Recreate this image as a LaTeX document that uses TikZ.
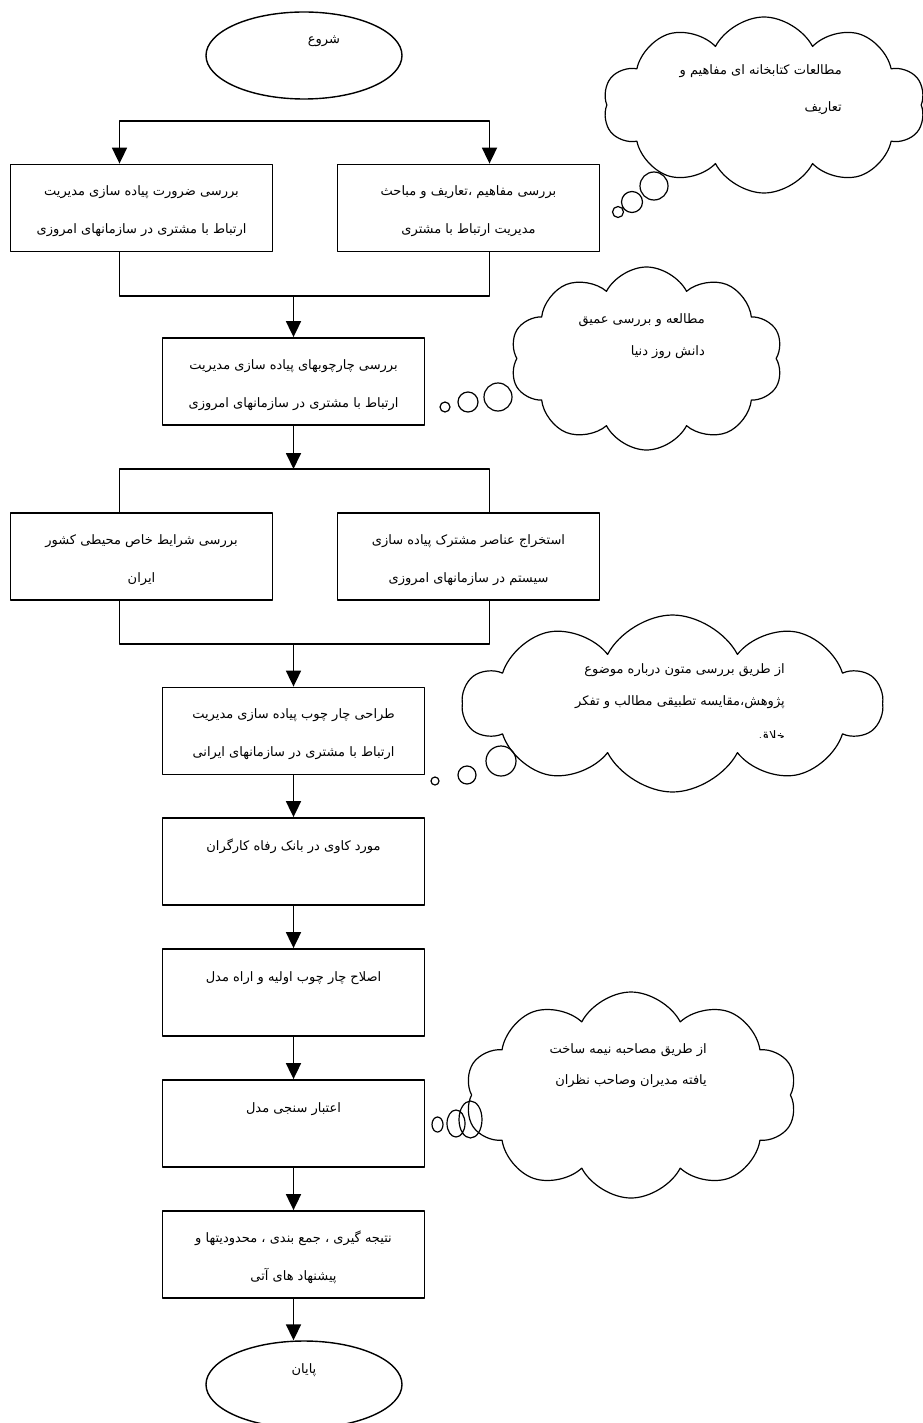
\documentclass[tikz,border=0pt]{standalone}
\usepackage{fontspec}
\newfontfamily\arabicfont[Script=Arabic]{DejaVu Sans}
\TeXXeTstate=1
\usetikzlibrary{shapes.geometric,shapes.symbols,arrows.meta,positioning}
\newcommand{\fa}[1]{{\arabicfont\beginR\rule[-2pt]{0pt}{19pt}#1\endR}}
\tikzset{
  box/.style={draw, line width=1.8pt, minimum width=262pt, minimum height=87pt,
    inner sep=0pt, align=center, font=\fontsize{13}{38}\selectfont},
  term/.style={draw, ellipse, line width=1.4pt, minimum width=196pt, minimum height=87pt,
    inner sep=0pt, align=center, font=\fontsize{13}{38}\selectfont},
  thought/.style={draw, cloud, cloud puffs=10, cloud puff arc=125, cloud ignores aspect,
    line width=1.2pt, inner sep=0pt},
  note/.style={anchor=north east, align=right, inner sep=0pt, font=\fontsize{13}{32}\selectfont},
  link/.style={line width=1.8pt},
  arr/.style={line width=1.8pt, -{Triangle[length=16pt,width=15pt]}}
}
\begin{document}
\begin{tikzpicture}[x=1pt, y=-1pt, line join=round]
  \useasboundingbox[fill=white] (0,0) rectangle (922,1423);
  \def\cx{293.5} \def\lx{141.5} \def\rx{468.5}
  % flow
  \node[term, text width=72pt, align=right] (start) at (304,55.5) {\fa{شروع}\\\fa{}};
  \node[box] (b1L) at (\lx,208) {\fa{بررسی ضرورت پیاده سازی مدیریت}\\\fa{ارتباط با مشتری در سازمانهای امروزی}};
  \node[box] (b1R) at (\rx,208) {\fa{بررسی مفاهیم ،تعاریف و مباحث}\\\fa{مدیریت ارتباط با مشتری}};
  \node[box] (b2) at (\cx,381.5) {\fa{بررسی چارچوبهای پیاده سازی مدیریت}\\\fa{ارتباط با مشتری در سازمانهای امروزی}};
  \node[box] (b3L) at (\lx,556.5) {\fa{بررسی شرایط خاص محیطی کشور}\\\fa{ایران}};
  \node[box] (b3R) at (\rx,556.5) {\fa{استخراج عناصر مشترک پیاده سازی}\\\fa{سیستم در سازمانهای امروزی}};
  \node[box] (b4) at (\cx,731) {\fa{طراحی چار چوب پیاده سازی مدیریت}\\\fa{ارتباط با مشتری در سازمانهای ایرانی}};
  \node[box] (b5) at (\cx,861.5) {\fa{مورد کاوی در بانک رفاه کارگران}\\\fa{}};
  \node[box] (b6) at (\cx,992.5) {\fa{اصلاح چار چوب اولیه و اراه مدل}\\\fa{}};
  \node[box] (b7) at (\cx,1123.5) {\fa{اعتبار سنجی مدل}\\\fa{}};
  \node[box] (b8) at (\cx,1254.5) {\fa{نتیجه گیری ، جمع بندی ، محدودیتها و}\\\fa{پیشنهاد های  آتی}};
  \node[term] (stop) at (304,1384.5) {\fa{پایان}\\\fa{}};

  \coordinate (split1) at (\cx,121);
  \coordinate (join1) at (\cx,296);
  \coordinate (split2) at (\cx,469);
  \coordinate (join2) at (\cx,644);
  \draw[arr] (split1) -| ([xshift=-22pt]b1L.north);
  \draw[arr] (split1) -| ([xshift=21pt]b1R.north);
  \draw[link] ([xshift=-22pt]b1L.south) |- (join1) -| ([xshift=21pt]b1R.south);
  \draw[arr] (join1) -- (b2);
  \draw[arr] (b2) -- (split2);
  \draw[link] ([xshift=-22pt]b3L.north) |- (split2) -| ([xshift=21pt]b3R.north);
  \draw[link] ([xshift=-22pt]b3L.south) |- (join2) -| ([xshift=21pt]b3R.south);
  \draw[arr] (join2) -- (b4);
  \foreach \a/\b in {b4/b5,b5/b6,b6/b7,b7/b8,b8/stop}
    \draw[arr] (\a) -- (\a |- \b.north);

  % thought clouds
  \node[thought, minimum width=322pt, minimum height=176pt] (cloud1) at (764,105) {};
  \node[note, font=\fontsize{13}{37}\selectfont] (note1) at (842,57) {\fa{مطالعات کتابخانه ای مفاهیم و}\\\fa{تعاریف}};
  \draw[line width=1.2pt] (618,212) circle (5.5) (632,202) circle (10.5) (654,186) circle (14);

  \node[thought, minimum width=273pt, minimum height=183pt] (cloud2) at (646.5,358.5) {};
  \node[note] (note2) at (705,306) {\fa{مطالعه و بررسی عمیق}\\\fa{دانش روز دنیا}};
  \draw[line width=1.2pt] (445,407) circle (5) (468,402) circle (10) (498,397) circle (14);

  \node[thought, minimum width=419pt, minimum height=177pt] (cloud3) at (672.5,703.5) {};
  \node[note] (note3) at (785,656) {\fa{از طریق بررسی متون درباره موضوع}\\\fa{پژوهش،مقایسه تطبیقی مطالب و تفکر}};
  \begin{scope}
    \clip (690,700) rectangle (800,737);
    \node[anchor=base east, inner sep=0pt, font=\fontsize{13}{32}\selectfont] (note3b) at (785,740) {\fa{خلاق}};
  \end{scope}
  \draw[line width=1.2pt] (435,781) circle (4) (467,775) circle (9) (501,761) circle (15);

  \node[thought, minimum width=332pt, minimum height=206pt] (cloud4) at (631,1095) {};
  \node[note, font=\fontsize{13}{31}\selectfont] (note4) at (707,1036) {\fa{از طریق مصاحبه نیمه ساخت}\\\fa{یافته مدیران  وصاحب نظران}};
  \draw[line width=1.2pt] (437.5,1124.5) ellipse (5.5 and 7.5) (456,1123.5) ellipse (9 and 13.5) (470.5,1119.5) ellipse (11.5 and 18.5);
\end{tikzpicture}
\end{document}
